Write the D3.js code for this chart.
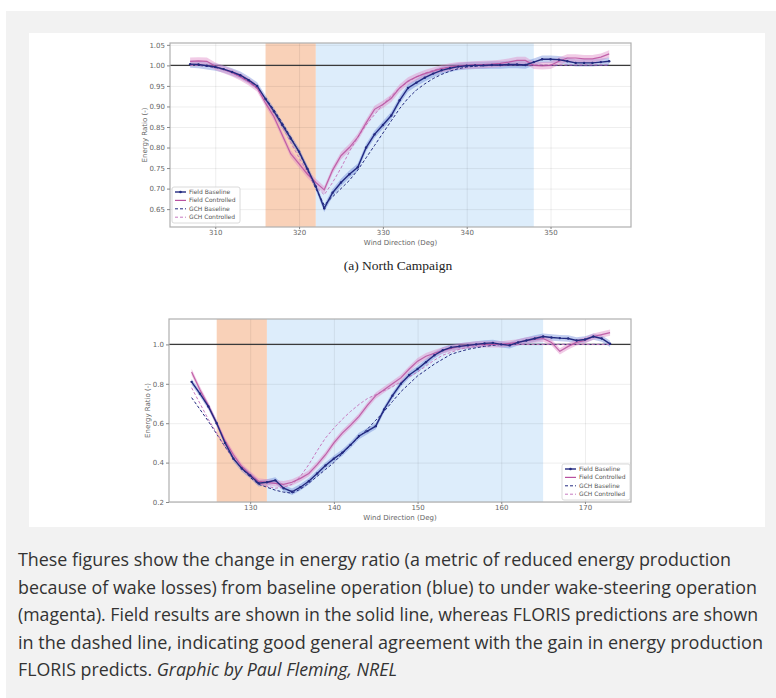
<!DOCTYPE html>
<meta charset="utf-8">
<style>
body { margin: 0; background: #fff; }
svg { display: block; }
.tick text { font: 7px "DejaVu Sans", sans-serif; fill: #666; }
.axis path { display: none; }
.axis line { stroke: #888; }
.grid line { stroke: #000; stroke-opacity: 0.07; }
.grid path { display: none; }
.legend text { font: 6px "DejaVu Sans", sans-serif; fill: #555; }
</style>
<body>
<svg width="776" height="698"></svg>
<script src="https://d3js.org/d3.v7.min.js"></script>
<script>

// North campaign (wind direction, deg)
var northDir = [307,308,309,310,311,312,313,314,315,316,317,318,319,320,321,322,323,324,325,326,327,328,329,330,331,332,333,334,335,336,337,338,339,340,341,342,343,344,345,346,347,348,349,350,351,352,353,354,355,356,357];
var northFieldBase = [1.003,1.002,0.999,0.996,0.991,0.984,0.976,0.964,0.950,0.918,0.888,0.855,0.822,0.790,0.748,0.705,0.652,0.690,0.715,0.735,0.752,0.800,0.832,0.855,0.878,0.915,0.945,0.958,0.970,0.980,0.988,0.993,0.997,0.999,1.000,1.000,1.001,1.001,1.002,1.002,1.001,1.008,1.015,1.015,1.014,1.010,1.006,1.006,1.006,1.008,1.010];
var northFieldCtrl = [1.010,1.011,1.010,0.998,0.990,0.982,0.972,0.960,0.945,0.908,0.875,0.830,0.785,0.760,0.735,0.715,0.697,0.745,0.780,0.800,0.825,0.860,0.893,0.905,0.920,0.945,0.962,0.972,0.980,0.986,0.992,0.996,0.999,1.000,1.001,1.002,1.003,1.005,1.008,1.012,1.012,1.000,0.999,1.000,1.010,1.018,1.018,1.016,1.016,1.020,1.028];
var northGchBase = [1.000,1.000,0.998,0.995,0.990,0.983,0.974,0.962,0.945,0.920,0.892,0.860,0.825,0.788,0.745,0.700,0.660,0.680,0.700,0.720,0.745,0.775,0.805,0.835,0.865,0.895,0.920,0.940,0.955,0.968,0.978,0.986,0.992,0.996,0.998,0.999,1.000,1.000,1.000,1.000,1.000,1.000,1.000,1.000,1.000,1.000,1.000,1.000,1.000,1.000,1.000];
var northGchCtrl = [1.000,1.000,0.998,0.995,0.990,0.982,0.972,0.960,0.943,0.915,0.885,0.850,0.812,0.775,0.740,0.705,0.685,0.715,0.750,0.790,0.825,0.855,0.880,0.905,0.925,0.945,0.960,0.972,0.981,0.988,0.993,0.996,0.998,1.000,1.001,1.001,1.001,1.001,1.001,1.001,1.001,1.001,1.001,1.001,1.001,1.001,1.001,1.001,1.001,1.001,1.001];
var northSpread = 0.009;
var northXTicks = [310, 320, 330, 340, 350];
var northYTicks = [0.65, 0.70, 0.75, 0.80, 0.85, 0.90, 0.95, 1.00, 1.05];
var northOrange = [316, 322];
var northBlue = [322, 348];

// South campaign
var southDir = [123,124,125,126,127,128,129,130,131,132,133,134,135,136,137,138,139,140,141,142,143,144,145,146,147,148,149,150,151,152,153,154,155,156,157,158,159,160,161,162,163,164,165,166,167,168,169,170,171,172,173];
var southFieldBase = [0.81,0.75,0.685,0.60,0.50,0.42,0.37,0.335,0.295,0.30,0.31,0.27,0.252,0.275,0.305,0.345,0.385,0.42,0.45,0.49,0.535,0.56,0.585,0.67,0.74,0.80,0.845,0.875,0.91,0.945,0.97,0.985,0.99,0.995,1.0,1.005,1.008,1.0,0.995,1.01,1.02,1.03,1.04,1.035,1.032,1.03,1.02,1.025,1.04,1.03,1.003];
var southFieldCtrl = [0.86,0.77,0.69,0.60,0.51,0.44,0.38,0.34,0.305,0.30,0.295,0.29,0.30,0.32,0.345,0.39,0.44,0.50,0.55,0.59,0.635,0.69,0.74,0.77,0.80,0.83,0.875,0.915,0.94,0.955,0.97,0.98,0.99,0.995,1.0,1.0,1.0,1.0,1.005,1.01,1.02,1.025,1.03,1.01,0.965,0.99,1.01,1.02,1.04,1.05,1.06];
var southGchBase = [0.73,0.67,0.61,0.545,0.48,0.42,0.37,0.325,0.29,0.275,0.26,0.25,0.245,0.265,0.295,0.33,0.365,0.40,0.445,0.49,0.53,0.57,0.615,0.66,0.71,0.76,0.80,0.84,0.87,0.90,0.925,0.95,0.963,0.975,0.983,0.99,0.995,1.0,1.0,1.0,1.0,1.0,1.0,1.0,1.0,1.0,1.0,1.0,1.0,1.0,1.0];
var southGchCtrl = [0.78,0.70,0.62,0.55,0.48,0.42,0.37,0.33,0.295,0.28,0.27,0.275,0.29,0.33,0.39,0.46,0.525,0.575,0.62,0.66,0.695,0.725,0.745,0.765,0.785,0.81,0.835,0.86,0.89,0.92,0.945,0.96,0.975,0.985,0.99,0.995,1.0,1.0,1.0,1.0,1.0,1.0,1.0,1.0,1.0,1.0,1.0,1.0,1.0,1.0,1.0];
var southSpread = 0.016;
var southXTicks = [130, 140, 150, 160, 170];
var southYTicks = [0.2, 0.4, 0.6, 0.8, 1.0];
var southOrange = [126, 132];
var southBlue = [132, 165];

var legendNames = ["Field Baseline", "Field Controlled", "GCH Baseline", "GCH Controlled"];

var captionLines = [
  "These figures show the change in energy ratio (a metric of reduced energy production",
  "because of wake losses) from baseline operation (blue) to under wake-steering operation",
  "(magenta). Field results are shown in the solid line, whereas FLORIS predictions are shown",
  "in the dashed line, indicating good general agreement with the gain in energy production"
];

var navy = "#232a80",
    magenta = "#b8509f",
    navyBand = "#4f6fd0",
    pinkBand = "#e08cc8";

var svg = d3.select("svg");

// page background
svg.append("rect").attr("x", 6).attr("y", 11).attr("width", 770).attr("height", 687).attr("fill", "#f2f2f2");
svg.append("rect").attr("x", 29).attr("y", 33).attr("width", 736).attr("height", 494).attr("fill", "#fff");

function drawPanel(p) {
  var g = svg.append("g");
  var x = d3.scaleLinear().domain(p.xDomain).range([p.left, p.right]);
  var y = d3.scaleLinear().domain(p.yDomain).range([p.bottom, p.top]);

  // shaded regions
  g.append("rect")
    .attr("x", x(p.orange[0])).attr("width", x(p.orange[1]) - x(p.orange[0]))
    .attr("y", p.top).attr("height", p.bottom - p.top)
    .attr("fill", "#f9d1b8");
  g.append("rect")
    .attr("x", x(p.blue[0])).attr("width", x(p.blue[1]) - x(p.blue[0]))
    .attr("y", p.top).attr("height", p.bottom - p.top)
    .attr("fill", "#ddedfb");

  // grid
  g.append("g").attr("class", "grid")
    .attr("transform", "translate(0," + p.bottom + ")")
    .call(d3.axisBottom(x).tickValues(p.xTicks).tickSize(-(p.bottom - p.top)).tickFormat(""));
  g.append("g").attr("class", "grid")
    .attr("transform", "translate(" + p.left + ",0)")
    .call(d3.axisLeft(y).tickValues(p.yTicks).tickSize(-(p.right - p.left)).tickFormat(""));

  // reference line at 1.0
  g.append("line")
    .attr("x1", p.left).attr("x2", p.right)
    .attr("y1", y(1)).attr("y2", y(1))
    .attr("stroke", "#3a3a3a").attr("stroke-width", 1.3);

  var pts = function(vals) { return vals.map(function(v, i) { return [p.dir[i], v]; }); };

  var area = d3.area()
    .x(function(d) { return x(d[0]); })
    .y0(function(d) { return y(d[1] - p.spread); })
    .y1(function(d) { return y(d[1] + p.spread); });
  var line = d3.line()
    .x(function(d) { return x(d[0]); })
    .y(function(d) { return y(d[1]); });

  g.append("path").datum(pts(p.fieldBase)).attr("d", area).attr("fill", navyBand).attr("fill-opacity", 0.35);
  g.append("path").datum(pts(p.fieldCtrl)).attr("d", area).attr("fill", pinkBand).attr("fill-opacity", 0.45);

  g.append("path").datum(pts(p.gchBase)).attr("d", line)
    .attr("fill", "none").attr("stroke", navy).attr("stroke-width", 1).attr("stroke-dasharray", "3,2");
  g.append("path").datum(pts(p.gchCtrl)).attr("d", line)
    .attr("fill", "none").attr("stroke", "#c77ac0").attr("stroke-width", 1).attr("stroke-dasharray", "3,2");
  g.append("path").datum(pts(p.fieldCtrl)).attr("d", line)
    .attr("fill", "none").attr("stroke", magenta).attr("stroke-width", 1.2).attr("stroke-opacity", 0.85);
  g.append("path").datum(pts(p.fieldBase)).attr("d", line)
    .attr("fill", "none").attr("stroke", navy).attr("stroke-width", 1.4);

  g.selectAll(".mb").data(pts(p.fieldBase)).enter().append("circle")
    .attr("cx", function(d) { return x(d[0]); })
    .attr("cy", function(d) { return y(d[1]); })
    .attr("r", 1.2).attr("fill", navy);

  // frame
  g.append("rect")
    .attr("x", p.left).attr("y", p.top)
    .attr("width", p.right - p.left).attr("height", p.bottom - p.top)
    .attr("fill", "none").attr("stroke", "#b0b0b0").attr("stroke-width", 1.2);

  // axes
  g.append("g").attr("class", "axis")
    .attr("transform", "translate(0," + p.bottom + ")")
    .call(d3.axisBottom(x).tickValues(p.xTicks).tickSize(2).tickPadding(1).tickFormat(d3.format("d")));
  g.append("g").attr("class", "axis")
    .attr("transform", "translate(" + p.left + ",0)")
    .call(d3.axisLeft(y).tickValues(p.yTicks).tickSize(3).tickPadding(2).tickFormat(d3.format(p.yFormat)));

  g.append("text")
    .attr("x", (p.left + p.right) / 2).attr("y", p.bottom + 18)
    .attr("text-anchor", "middle")
    .style("font", "7px 'DejaVu Sans', sans-serif").style("fill", "#666")
    .text("Wind Direction (Deg)");
  g.append("text")
    .attr("transform", "translate(" + p.ylabelX + "," + (p.top + p.bottom) / 2 + ") rotate(-90)")
    .attr("text-anchor", "middle")
    .style("font", "7px 'DejaVu Sans', sans-serif").style("fill", "#666")
    .text("Energy Ratio (-)");

  // legend
  var lg = g.append("g").attr("class", "legend").attr("transform", "translate(" + p.legend[0] + "," + p.legend[1] + ")");
  lg.append("rect").attr("width", 68).attr("height", 36).attr("rx", 2)
    .attr("fill", "#fff").attr("fill-opacity", 0.85).attr("stroke", "#d0d0d0").attr("stroke-width", 0.8);
  var styles = [
    {c: navy, dash: null, w: 1.4},
    {c: magenta, dash: null, w: 1.2},
    {c: navy, dash: "3,2", w: 1},
    {c: "#c77ac0", dash: "3,2", w: 1}
  ];
  legendNames.forEach(function(name, i) {
    var yy = 5 + i * 8.4;
    lg.append("line").attr("x1", 3).attr("x2", 14).attr("y1", yy).attr("y2", yy)
      .attr("stroke", styles[i].c).attr("stroke-width", styles[i].w)
      .attr("stroke-dasharray", styles[i].dash);
    if (i === 0) lg.append("circle").attr("cx", 8.5).attr("cy", yy).attr("r", 1.3).attr("fill", navy);
    lg.append("text").attr("x", 17).attr("y", yy + 2).text(name);
  });
}

drawPanel({
  dir: northDir, fieldBase: northFieldBase, fieldCtrl: northFieldCtrl,
  gchBase: northGchBase, gchCtrl: northGchCtrl, spread: northSpread,
  xDomain: [304.6, 359.6], yDomain: [0.6065, 1.0545],
  left: 170, right: 631, top: 43, bottom: 227,
  xTicks: northXTicks, yTicks: northYTicks, yFormat: ".2f",
  orange: northOrange, blue: northBlue,
  ylabelX: 147, legend: [172, 187]
});

drawPanel({
  dir: southDir, fieldBase: southFieldBase, fieldCtrl: southFieldCtrl,
  gchBase: southGchBase, gchCtrl: southGchCtrl, spread: southSpread,
  xDomain: [120.3, 175.5], yDomain: [0.2, 1.129],
  left: 169, right: 631, top: 319, bottom: 502,
  xTicks: southXTicks, yTicks: southYTicks, yFormat: ".1f",
  orange: southOrange, blue: southBlue,
  ylabelX: 150, legend: [562, 464]
});

svg.append("text")
  .attr("x", 398).attr("y", 270)
  .attr("text-anchor", "middle")
  .style("font", "13.5px 'Liberation Serif', 'DejaVu Serif', serif").style("fill", "#222")
  .text("(a) North Campaign");

// caption
var capWidths = [713, 739, 740, 745];
var cap = svg.append("g").style("font", "18px 'Liberation Sans Narrow', 'Open Sans', sans-serif").style("fill", "#333");
captionLines.forEach(function(t, i) {
  cap.append("text")
    .attr("x", 18).attr("y", 566 + i * 27.6)
    .attr("textLength", capWidths[i]).attr("lengthAdjust", "spacingAndGlyphs")
    .text(t);
});
var last = cap.append("text").attr("x", 18).attr("y", 566 + 4 * 27.6)
  .attr("textLength", 379).attr("lengthAdjust", "spacingAndGlyphs");
last.append("tspan").text("FLORIS predicts. ");
last.append("tspan").style("font-style", "italic").text("Graphic by Paul Fleming, NREL");

</script>
